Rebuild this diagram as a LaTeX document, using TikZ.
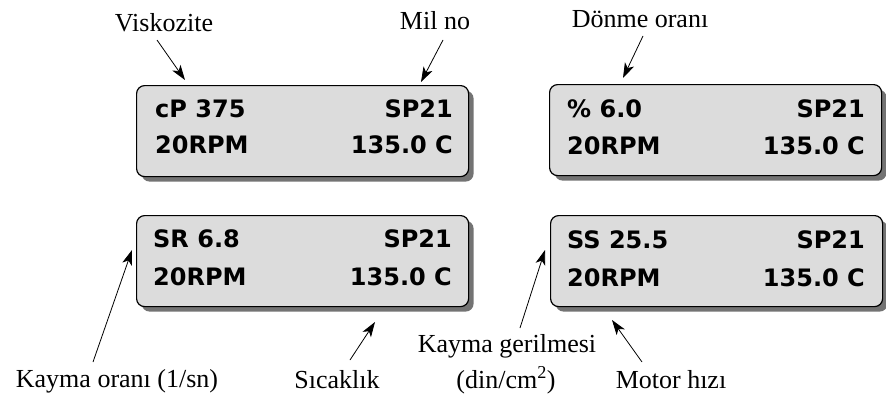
\documentclass[tikz,border=0pt]{standalone}
\usepackage{fontspec}
\setmainfont{Liberation Serif}
\newfontfamily\lcdfont{DejaVu Sans}
\usetikzlibrary{arrows.meta,shadows}
\definecolor{lcdfill}{HTML}{DCDCDC}
\begin{document}
\begin{tikzpicture}[x=1pt,y=-1pt,
  lcd/.style={draw=black, line width=1.2pt, fill=lcdfill, rounded corners=8pt,
    minimum width=332pt, minimum height=91pt, anchor=north west, inner sep=0pt,
    drop shadow={shadow xshift=5pt, shadow yshift=-5pt, fill=black!55, opacity=1}},
  lcdtxt/.style={font=\lcdfont\bfseries\fontsize{24}{24}\selectfont, inner sep=0pt},
  lab/.style={font=\fontsize{26}{28}\selectfont, inner sep=0pt, anchor=base},
  arr/.style={-{Stealth[length=15pt,width=10pt,inset=4pt]}, line width=0.8pt}
]
\useasboundingbox (0,0) rectangle (886,399);

% boxes
\node[lcd] (box1) at (136,85) {};
\node[lcd] (box2) at (549,84) {};
\node[lcd] (box3) at (136,215) {};
\node[lcd] (box4) at (550,215) {};

% box texts
\node[lcdtxt, anchor=base west] (t1a) at (155,117) {cP 375};
\node[lcdtxt, anchor=base east] (t1b) at (453,117) {SP21};
\node[lcdtxt, anchor=base west] (t1c) at (155,153) {20RPM};
\node[lcdtxt, anchor=base east] (t1d) at (453,153) {135.0 C};

\node[lcdtxt, anchor=base west] (t2a) at (567,117) {\% 6.0};
\node[lcdtxt, anchor=base east] (t2b) at (865,117) {SP21};
\node[lcdtxt, anchor=base west] (t2c) at (567,154) {20RPM};
\node[lcdtxt, anchor=base east] (t2d) at (865,154) {135.0 C};

\node[lcdtxt, anchor=base west] (t3a) at (153,247) {SR 6.8};
\node[lcdtxt, anchor=base east] (t3b) at (452,247) {SP21};
\node[lcdtxt, anchor=base west] (t3c) at (153,285) {20RPM};
\node[lcdtxt, anchor=base east] (t3d) at (452,285) {135.0 C};

\node[lcdtxt, anchor=base west] (t4a) at (567,248) {SS 25.5};
\node[lcdtxt, anchor=base east] (t4b) at (865,248) {SP21};
\node[lcdtxt, anchor=base west] (t4c) at (567,286) {20RPM};
\node[lcdtxt, anchor=base east] (t4d) at (865,286) {135.0 C};

% labels
\node[lab] (lvis) at (164,31) {Viskozite};
\node[lab] (lmil) at (435,29) {Mil no};
\node[lab] (ldon) at (640,27) {Dönme oranı};
\node[lab] (lkor) at (117,387) {Kayma oranı (1/sn)};
\node[lab] (lsic) at (337,388) {Sıcaklık};
\node[lab] (lkg) at (507,352) {Kayma gerilmesi};
\node[lab] (ldin) at (506,388) {(din/cm\textsuperscript{2})};
\node[lab] (lmot) at (671,388) {Motor hızı};

% arrow ends
\coordinate (s1) at (157,40);  \coordinate (e1) at (185,80);
\coordinate (s2) at (443,40);  \coordinate (e2) at (421,82);
\coordinate (s3) at (643,36);  \coordinate (e3) at (623,78);
\coordinate (s4) at (93,362);  \coordinate (e4) at (132,250);
\coordinate (s5) at (350,360); \coordinate (e5) at (375,322);
\coordinate (s6) at (520,328); \coordinate (e6) at (545,250);
\coordinate (s7) at (642,362); \coordinate (e7) at (612,320);

\draw[arr] (s1) -- (e1);
\draw[arr] (s2) -- (e2);
\draw[arr] (s3) -- (e3);
\draw[arr] (s4) -- (e4);
\draw[arr] (s5) -- (e5);
\draw[arr] (s6) -- (e6);
\draw[arr] (s7) -- (e7);
\end{tikzpicture}
\end{document}
